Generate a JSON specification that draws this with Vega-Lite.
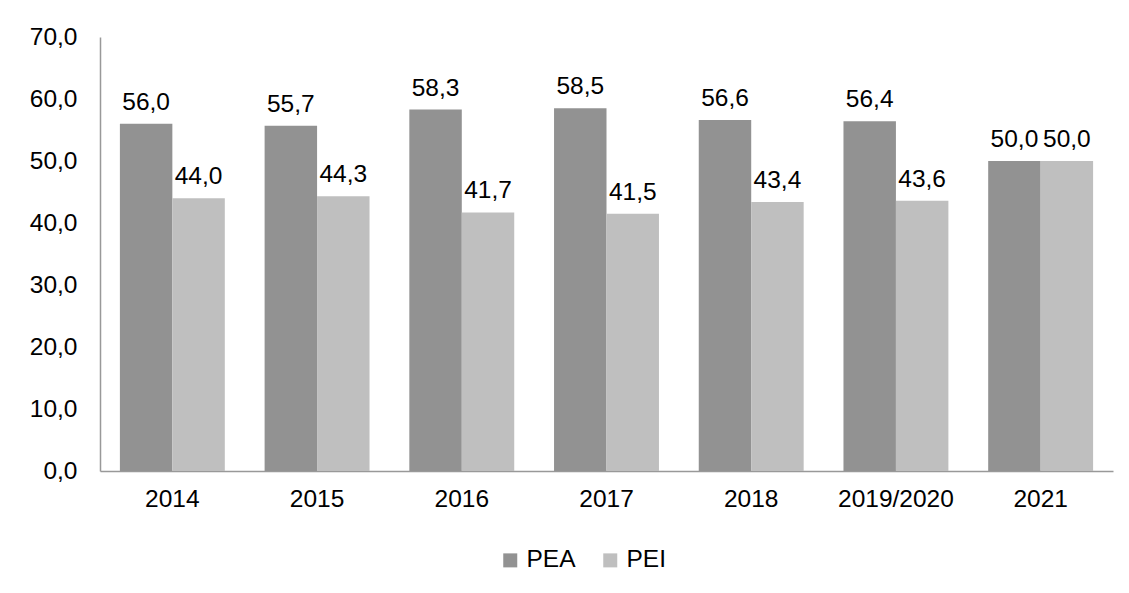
{
  "$schema": "https://vega.github.io/schema/vega-lite/v6.json",
  "autosize": "none",
  "width": 1013,
  "height": 434,
  "padding": {"left": 100, "top": 37, "right": 16, "bottom": 122},
  "background": "white",
  "config": {
    "locale": {"number": {"decimal": ",", "thousands": ".", "grouping": [3], "currency": ["", " €"]}},
    "font": "Liberation Sans",
    "view": {"stroke": null}
  },
  "data": {
    "values": [
      {"ano": "2014", "serie": "PEA", "valor": 56.0},
      {"ano": "2014", "serie": "PEI", "valor": 44.0},
      {"ano": "2015", "serie": "PEA", "valor": 55.7},
      {"ano": "2015", "serie": "PEI", "valor": 44.3},
      {"ano": "2016", "serie": "PEA", "valor": 58.3},
      {"ano": "2016", "serie": "PEI", "valor": 41.7},
      {"ano": "2017", "serie": "PEA", "valor": 58.5},
      {"ano": "2017", "serie": "PEI", "valor": 41.5},
      {"ano": "2018", "serie": "PEA", "valor": 56.6},
      {"ano": "2018", "serie": "PEI", "valor": 43.4},
      {"ano": "2019/2020", "serie": "PEA", "valor": 56.4},
      {"ano": "2019/2020", "serie": "PEI", "valor": 43.6},
      {"ano": "2021", "serie": "PEA", "valor": 50.0},
      {"ano": "2021", "serie": "PEI", "valor": 50.0}
    ]
  },
  "encoding": {
    "x": {
      "field": "ano", "type": "nominal", "sort": null,
      "scale": {"paddingInner": 0.275, "paddingOuter": 0.1375},
      "axis": {"title": null, "labelAngle": 0, "labelFontSize": 24.5, "labelColor": "black", "labelPadding": 16, "ticks": false, "domainColor": "#999999", "domainWidth": 1.5}
    },
    "xOffset": {"field": "serie", "type": "nominal", "scale": {"paddingInner": 0, "paddingOuter": 0}},
    "y": {
      "field": "valor", "type": "quantitative",
      "scale": {"domain": [0, 70], "nice": false},
      "axis": {"title": null, "values": [0, 10, 20, 30, 40, 50, 60, 70], "format": ".1f", "grid": false, "ticks": false, "labelFontSize": 24.5, "labelColor": "black", "labelPadding": 23, "domainColor": "#999999", "domainWidth": 1.5}
    }
  },
  "layer": [
    {
      "mark": {"type": "bar"},
      "encoding": {
        "color": {
          "field": "serie", "type": "nominal",
          "scale": {"domain": ["PEA", "PEI"], "range": ["#929292", "#bfbfbf"]},
          "legend": {
            "title": null, "orient": "none", "direction": "horizontal",
            "legendX": 398, "legendY": 511,
            "symbolType": "square", "symbolSize": 196, "symbolStrokeWidth": 0,
            "labelFontSize": 24.5, "labelColor": "black", "labelOffset": 4, "columnPadding": 22
          }
        }
      }
    },
    {
      "mark": {"type": "text", "baseline": "alphabetic", "dy": -14, "fontSize": 24.5, "color": "black"},
      "encoding": {
        "text": {"field": "valor", "type": "quantitative", "format": ".1f"}
      }
    }
  ]
}
